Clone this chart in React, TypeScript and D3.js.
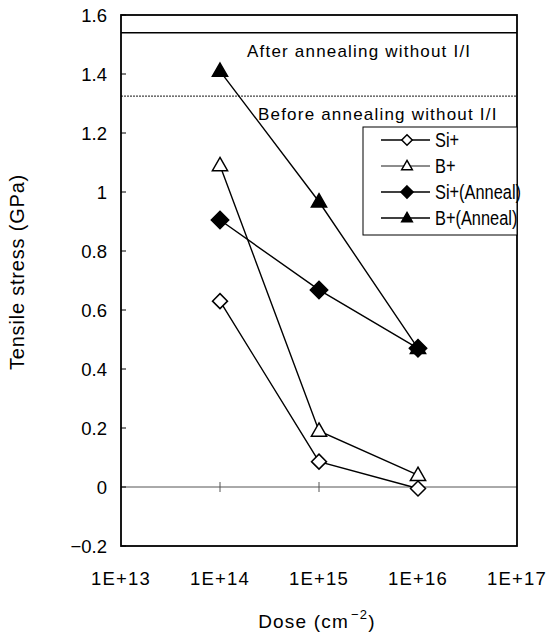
import { useEffect, useRef } from "react";
import * as d3 from "d3";

const doses = [1e14, 1e15, 1e16];
const siPlus = [0.63, 0.086, -0.005];
const bPlus = [1.09, 0.19, 0.04];
const siAnneal = [0.905, 0.668, 0.47];
const bAnneal = [1.41, 0.967, 0.47];
const seriesNames = ["Si+", "B+", "Si+(Anneal)", "B+(Anneal)"];
const xTicks = [1e13, 1e14, 1e15, 1e16, 1e17];
const xTickLabels = ["1E+13", "1E+14", "1E+15", "1E+16", "1E+17"];
const yTicks = [-0.2, 0, 0.2, 0.4, 0.6, 0.8, 1, 1.2, 1.4, 1.6];
const refLines = [
  { label: "After annealing without I/I", value: 1.54 },
  { label: "Before annealing without I/I", value: 1.325 },
];

const W = 558;
const H = 637;
const margin = { top: 15, right: 41, bottom: 91, left: 121 };
const FONT = "'Liberation Sans', Arial, sans-serif";

function drawMarker(g: any, kind: string, cx: number, cy: number, k = 1) {
  if (kind === "diamond" || kind === "fdiamond") {
    const r = (kind === "diamond" ? 7.5 : 8.7) * k;
    g.append("path")
      .attr("d", `M${cx},${cy - r}L${cx + r},${cy}L${cx},${cy + r}L${cx - r},${cy}Z`)
      .attr("fill", kind === "diamond" ? "white" : "black")
      .attr("stroke", "black")
      .attr("stroke-width", 1.5);
  } else {
    const r = 8 * k;
    g.append("path")
      .attr("d", `M${cx},${cy - r}L${cx + r * 0.95},${cy + r * 0.65}L${cx - r * 0.95},${cy + r * 0.65}Z`)
      .attr("fill", kind === "triangle" ? "white" : "black")
      .attr("stroke", "black")
      .attr("stroke-width", 1.5);
  }
}

const App = () => {
  const ref = useRef<SVGSVGElement>(null);

  useEffect(() => {
    const svg = d3.select(ref.current);
    svg.selectAll("*").remove();

    const x = d3.scaleLog().domain([1e13, 1e17]).range([margin.left, W - margin.right]);
    const y = d3.scaleLinear().domain([-0.2, 1.6]).range([H - margin.bottom, margin.top]);

    const series = [
      { name: seriesNames[0], values: siPlus, marker: "diamond" },
      { name: seriesNames[1], values: bPlus, marker: "triangle" },
      { name: seriesNames[2], values: siAnneal, marker: "fdiamond" },
      { name: seriesNames[3], values: bAnneal, marker: "ftriangle" },
    ];

    // zero line with small ticks
    svg.append("line")
      .attr("x1", x(1e13)).attr("x2", x(1e17))
      .attr("y1", y(0)).attr("y2", y(0))
      .attr("stroke", "#555").attr("stroke-width", 1);
    doses.forEach((d) => {
      svg.append("line")
        .attr("x1", x(d)).attr("x2", x(d))
        .attr("y1", y(0) - 5).attr("y2", y(0) + 5)
        .attr("stroke", "#555").attr("stroke-width", 1);
    });

    // reference lines
    refLines.forEach((r, i) => {
      svg.append("line")
        .attr("x1", x(1e13)).attr("x2", x(1e17))
        .attr("y1", y(r.value)).attr("y2", y(r.value))
        .attr("stroke", i === 0 ? "#000" : "#444")
        .attr("stroke-width", i === 0 ? 1.5 : 1.2)
        .attr("stroke-dasharray", i === 0 ? null : "2,1");
      svg.append("text")
        .attr("x", i === 0 ? 247 : 258)
        .attr("y", y(r.value) + 24)
        .attr("font-family", FONT).attr("font-size", 17)
        .attr("letter-spacing", 1.2)
        .text(r.label);
    });

    // y ticks (inward)
    yTicks.forEach((t) => {
      svg.append("line")
        .attr("x1", x(1e13)).attr("x2", x(1e13) + 5)
        .attr("y1", y(t)).attr("y2", y(t))
        .attr("stroke", "black").attr("stroke-width", 1);
      svg.append("text")
        .attr("x", 107).attr("y", y(t) + 6.5)
        .attr("text-anchor", "end")
        .attr("font-family", FONT).attr("font-size", 18.5)
        .text(t < 0 ? "\u22120.2" : d3.format("")(t));
    });

    xTicks.forEach((t, i) => {
      svg.append("text")
        .attr("x", x(t)).attr("y", 585)
        .attr("text-anchor", "middle")
        .attr("font-family", FONT).attr("font-size", 18.5)
        .attr("letter-spacing", 1.2)
        .text(xTickLabels[i]);
    });

    // frame
    svg.append("rect")
      .attr("x", x(1e13)).attr("y", y(1.6))
      .attr("width", x(1e17) - x(1e13)).attr("height", y(-0.2) - y(1.6))
      .attr("fill", "none").attr("stroke", "black").attr("stroke-width", 1.8);

    const line = d3.line<number>()
      .x((_, i) => x(doses[i]))
      .y((v) => y(v));

    series.forEach((s) => {
      svg.append("path")
        .datum(s.values)
        .attr("d", line)
        .attr("fill", "none")
        .attr("stroke", "black")
        .attr("stroke-width", 1.4);
    });
    series.forEach((s) => {
      s.values.forEach((v, i) => drawMarker(svg, s.marker, x(doses[i]), y(v)));
    });

    // legend
    const lg = svg.append("g");
    lg.append("rect")
      .attr("x", 363).attr("y", 127)
      .attr("width", W - margin.right - 363).attr("height", 108)
      .attr("fill", "white").attr("stroke", "black").attr("stroke-width", 1);
    series.forEach((s, i) => {
      const ly = 140 + i * 26;
      lg.append("line")
        .attr("x1", 381).attr("x2", 430)
        .attr("y1", ly).attr("y2", ly)
        .attr("stroke", "black").attr("stroke-width", i === 1 ? 0.9 : 1.4);
      drawMarker(lg, s.marker, 407, ly, 0.7);
      lg.append("text")
        .attr("transform", `translate(435,${ly + 7}) scale(0.84,1)`)
        .attr("font-family", FONT).attr("font-size", 19.5)
        .text(s.name);
    });

    // axis titles
    svg.append("text")
      .attr("transform", `translate(24,${272}) rotate(-90)`)
      .attr("text-anchor", "middle")
      .attr("font-family", FONT).attr("font-size", 20)
      .attr("letter-spacing", 0.8)
      .text("Tensile stress (GPa)");

    const xt = svg.append("text")
      .attr("x", 317).attr("y", 628)
      .attr("text-anchor", "middle")
      .attr("font-family", FONT).attr("font-size", 19)
      .attr("letter-spacing", 1.2);
    xt.append("tspan").text("Dose (cm");
    xt.append("tspan").attr("dy", -9).attr("dx", 2).attr("font-size", 13).text("\u22122");
    xt.append("tspan").attr("dy", 9).text(")");
  }, []);

  return (
    <svg
      ref={ref}
      width={W}
      height={H}
      style={{ position: "absolute", left: 0, top: 0, background: "white" }}
    />
  );
};

export default App;
